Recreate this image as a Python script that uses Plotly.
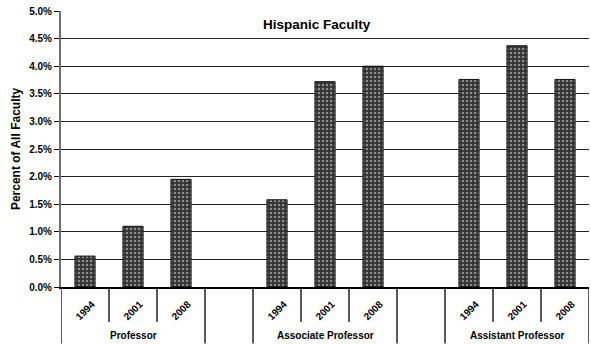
import plotly.graph_objects as go

# Hispanic faculty as a share of all faculty, by rank and year
ranks = ["Professor", "Associate Professor", "Assistant Professor"]
years = ["1994", "2001", "2008"]
professor = [0.56, 1.10, 1.95]
associate = [1.58, 3.72, 4.00]
assistant = [3.76, 4.37, 3.76]
y_ticks = [0, 0.5, 1.0, 1.5, 2.0, 2.5, 3.0, 3.5, 4.0, 4.5, 5.0]

font = "Liberation Sans, Arial, sans-serif"

# Category slots: three years per rank, with an empty slot between ranks
slots, vals, group_of = [], [], []
for i, (rank, series) in enumerate(zip(ranks, [professor, associate, assistant])):
    for yr, v in zip(years, series):
        slots.append(f"{rank} {yr}")
        vals.append(v / 100)
        group_of.append((rank, yr))
    if i < len(ranks) - 1:
        slots.append(f"gap{i}")
        vals.append(None)
        group_of.append(None)

fig = go.Figure(go.Bar(
    x=slots,
    y=vals,
    width=0.42,
    marker=dict(
        color="#333333",
        line=dict(color="#111111", width=1),
        pattern=dict(shape=".", fgcolor="#e6e6e6", bgcolor="#333333",
                     size=4, solidity=0.3),
    ),
))

annotations = [dict(
    text="<b>Hispanic Faculty</b>", x=0.485, y=0.95,
    xref="paper", yref="paper", xanchor="center", yanchor="middle",
    showarrow=False,
    font=dict(size=13.5, family=font, color="black"),
)]
shapes = []

# Year labels under each bar, rank labels under each group of three
for idx, g in enumerate(group_of):
    if g is None:
        continue
    rank, yr = g
    annotations.append(dict(
        text=f"<b>{yr}</b>", x=slots[idx], y=-0.085, xref="x", yref="paper",
        xanchor="center", yanchor="middle",
        showarrow=False, textangle=-45,
        font=dict(size=10, family=font, color="black"),
    ))
    if yr == years[1]:
        annotations.append(dict(
            text=f"<b>{rank}</b>", x=slots[idx], y=-0.175, xref="x", yref="paper",
            xanchor="center", yanchor="middle",
            showarrow=False, font=dict(size=10, family=font, color="black"),
        ))

# Separators below the axis: short between years, long around each group
n = len(slots)
for b in range(n + 1):
    pos = b - 0.5
    left = group_of[b - 1] if b > 0 else None
    right = group_of[b] if b < n else None
    long_line = left is None or right is None
    shapes.append(dict(
        type="line", xref="x", yref="paper", x0=pos, x1=pos,
        y0=0, y1=-0.205 if long_line else -0.127,
        line=dict(color="black", width=1.3),
    ))

fig.update_layout(
    width=591, height=344,
    margin=dict(l=61, r=2, t=11, b=57),
    plot_bgcolor="white", paper_bgcolor="white",
    showlegend=False,
    font=dict(family=font, size=10, color="black"),
    annotations=annotations,
    shapes=shapes,
)

fig.update_yaxes(
    range=[0, 0.05],
    tickvals=[t / 100 for t in y_ticks],
    ticktext=[f"<b>{t:.1f}%</b>" for t in y_ticks],
    tickfont=dict(size=10, family=font),
    showgrid=True, gridcolor="#222222", gridwidth=1,
    showline=True, linecolor="#707070", linewidth=2,
    ticks="outside", ticklen=5, tickcolor="black",
    zeroline=False,
    title=dict(text="<b>Percent of All Faculty</b>",
               font=dict(size=12, family=font), standoff=6),
)

fig.update_xaxes(
    type="category",
    range=[-0.5, n - 0.5],
    showticklabels=False,
    showline=True, linecolor="black", linewidth=2,
    ticks="",
)

fig.write_html("out.html")
